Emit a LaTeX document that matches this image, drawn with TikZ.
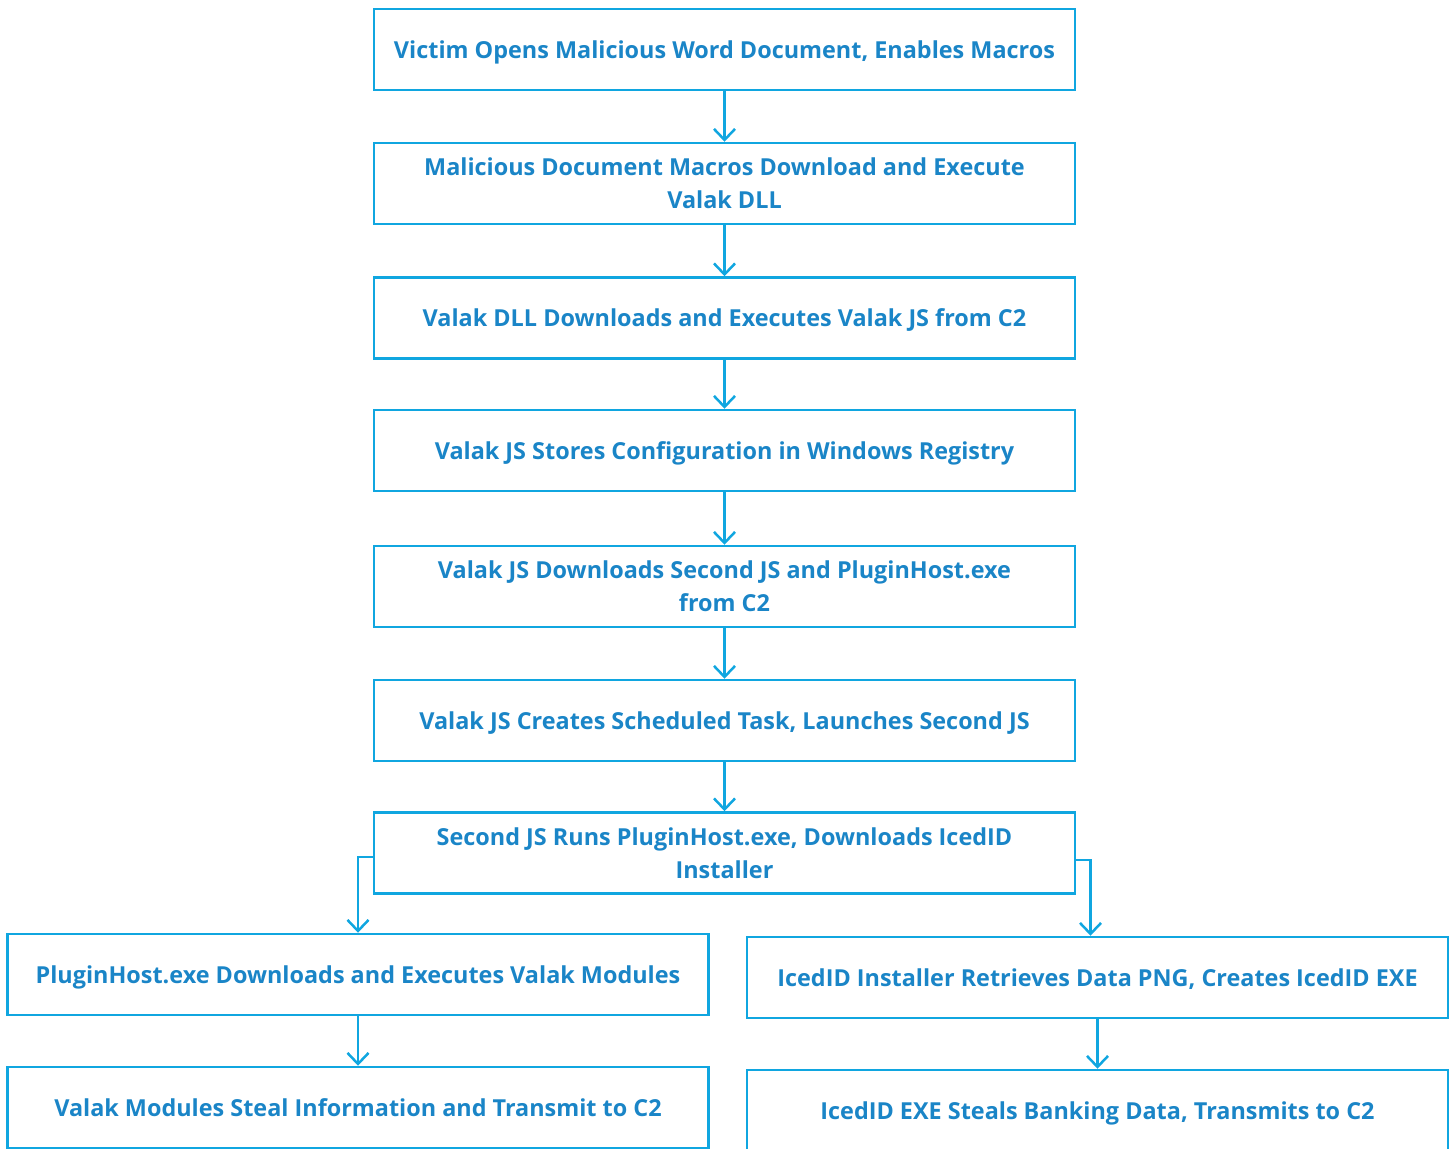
\documentclass[tikz,border=0pt]{standalone}
\usepackage{fontspec}
\setmainfont{Open Sans}
\usetikzlibrary{arrows.meta}
\definecolor{boxline}{HTML}{10A6E0}
\definecolor{boxtext}{HTML}{1A85C7}
\tikzset{
  stepbox/.style={draw=boxline, line width=2.5pt, minimum width=701pt,
    minimum height=81pt, inner sep=0pt, align=center, text=boxtext,
    text depth=0pt, font=\fontsize{23.4}{33}\selectfont\bfseries},
  flow/.style={draw=boxline, line width=2.5pt,
    -{Straight Barb[length=11pt,width=21pt,line width=2.5pt]}}
}
\begin{document}
\begin{tikzpicture}[x=1pt,y=-1pt]
      \useasboundingbox (0,0) rectangle (1455,1148);
      \draw
        (724.5,49.5) node[stepbox] (1){Victim Opens Malicious Word Document, Enables Macros}
        (724.5,183.5) node[stepbox] (2){Malicious Document Macros Download and Execute\\Valak DLL}
        (724.5,318) node[stepbox] (3){Valak DLL Downloads and Executes Valak JS from C2}
        (724.5,450.5) node[stepbox] (4){Valak JS Stores Configuration in Windows Registry}
        (724.5,586.5) node[stepbox] (5){Valak JS Downloads Second JS and PluginHost.exe\\from C2}
        (724.5,720.5) node[stepbox] (6){Valak JS Creates Scheduled Task, Launches Second JS}
        (724.5,853) node[stepbox] (7){Second JS Runs PluginHost.exe, Downloads IcedID\\Installer}
        (358,974.5) node[stepbox] (8){PluginHost.exe Downloads and Executes Valak Modules}
        (358,1107.5) node[stepbox] (9){Valak Modules Steal Information and Transmit to C2}
        (1097.5,977.5) node[stepbox] (10){IcedID Installer Retrieves Data PNG, Creates IcedID EXE}
        (1097.5,1110.5) node[stepbox] (11){IcedID EXE Steals Banking Data, Transmits to C2};
      \begin{scope}[flow]
        \draw (1) to (2);
        \draw (2) to (3);
        \draw (3) to (4);
        \draw (4) to (5);
        \draw (5) to (6);
        \draw (6) to (7);
        \draw ([yshift=-4pt]7.west) -| (8.north);
        \draw ([yshift=-7pt]7.east) -| ([xshift=-7pt]10.north);
        \draw (8) to (9);
        \draw (10) to (11);
      \end{scope}
    \end{tikzpicture}
\end{document}
